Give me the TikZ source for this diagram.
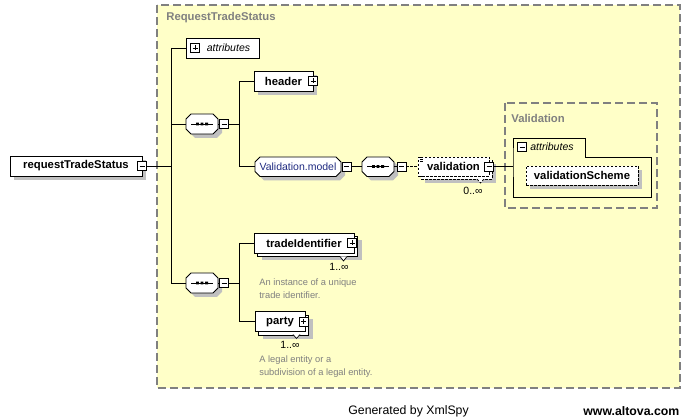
\documentclass[tikz,border=0pt]{standalone}
\usepackage{fontspec}
\setmainfont{Liberation Sans}
\usetikzlibrary{shadows}
\definecolor{bgyel}{HTML}{FFFFC8}
\definecolor{frame}{HTML}{808080}
\definecolor{shadc}{HTML}{C0C0C0}
\definecolor{grptext}{HTML}{1F2A80}
\newcommand\fontB{\fontsize{11.3}{13}\selectfont\bfseries}
\newcommand\fontR{\fontsize{10.5}{12}\selectfont}
\newcommand\fontS{\fontsize{9.3}{12.5}\selectfont}
\newcommand\fontF{\fontsize{12.3}{14}\selectfont}
% chamfered box: x1 y1 x2 y2 chamfer
\newcommand\octpath[5]{({#1+#5},#2) -- ({#3-#5},#2) -- (#3,{#2+#5}) -- (#3,{#4-#5}) -- ({#3-#5},#4) -- ({#1+#5},#4) -- (#1,{#4-#5}) -- (#1,{#2+#5}) -- cycle}
\newcommand\octa[5]{%
  \fill[shadc,shift={(4,4)}] \octpath{#1}{#2}{#3}{#4}{#5};
  \filldraw[fill=white] \octpath{#1}{#2}{#3}{#4}{#5};}
\newcommand\seqdots[1]{%
  \draw[line width=0.8pt] ([xshift=-11pt]#1.center) -- ([xshift=11pt]#1.center);
  \fill[shift={(#1.center)}] (-6,-1.4) rectangle ++(2.8,2.8) (-1.4,-1.4) rectangle ++(2.8,2.8) (3.2,-1.4) rectangle ++(2.8,2.8);}
\begin{document}
\begin{tikzpicture}[x=1pt,y=-1pt,line width=0.8pt,
  shad/.style={drop shadow={shadow xshift=4pt,shadow yshift=-4pt,fill=shadc,opacity=1}},
  elem/.style={draw,fill=white,minimum height=20,inner sep=0,font=\fontB},
  dsh/.style={dash pattern=on 2.5pt off 1.5pt},
  btn/.style={draw,fill=white,minimum size=9,inner sep=0,line width=0.7pt},
  btnminus/.style={btn,path picture={\draw[line width=0.7pt] ([xshift=2pt]path picture bounding box.west) -- ([xshift=-2pt]path picture bounding box.east);}},
  btnplus/.style={btn,path picture={\draw[line width=0.7pt] ([xshift=2pt]path picture bounding box.west) -- ([xshift=-2pt]path picture bounding box.east) ([yshift=-2pt]path picture bounding box.north) -- ([yshift=2pt]path picture bounding box.south);}},
  compo/.style={inner sep=0,minimum width=32,minimum height=20},
  grpbox/.style={draw=frame,fill=bgyel,dash pattern=on 8pt off 4pt,line width=1.2pt},
  grplabel/.style={text=frame,font=\fontB,anchor=west,inner sep=0},
  desc/.style={text=frame,font=\fontS,anchor=west,align=left,inner sep=0},
  card/.style={font=\fontR,inner sep=0},
  notch/.style={draw,fill=white,line width=0.7pt},
]
\fill[white] (0,0) rectangle (689,419);
\useasboundingbox (0,0) rectangle (689,419);

% outer group
\draw[grpbox] (157,5) rectangle (680,388);
\node[grplabel] (lblRTS) at (166,18) {RequestTradeStatus};

% root element
\node[elem,shad,minimum width=132] (rts) at (76,166) {requestTradeStatus};
\node[btnminus] (rtsb) at (142,166) {};

% attributes
\node[elem,font=\fontR\itshape,minimum width=73] (attr) at (222.5,48) {\hspace{12pt}attributes};
\node[btnplus] (attrb) at (195,48) {};

% trunk
\coordinate (tr1) at (171,48);
\coordinate (tr2) at (171,283);
\draw (tr1) -- (tr2);
\draw (tr1) -- (attr.west);
\draw (rtsb.east) -- (rtsb.east -| tr1);

% first sequence
\octa{186}{114}{218}{134}{5}
\node[compo] (s1) at (202,124) {};
\seqdots{s1}
\node[btnminus] (s1b) at (224,124) {};
\draw (s1.west -| tr1) -- (s1.west);
\draw (s1.east) -- (s1b.west);

\node[elem,shad,minimum width=59] (hdr) at (283.5,81) {header};
\node[btnplus] (hdrb) at (313,81) {};

\octa{255}{157}{341}{176.5}{5}
\node[compo,minimum width=86,font=\fontR,text=grptext] (vm) at (298,166.5) {Validation.model};
\node[btnminus] (vmb) at (346.5,166.5) {};
\coordinate (j1) at (239,124);
\draw (s1b.east) -- (j1);
\draw (hdr.west -| j1) -- (vm.west -| j1);
\draw (hdr.west -| j1) -- (hdr.west);
\draw (vm.west -| j1) -- (vm.west);

\octa{362}{157}{394}{176.5}{5}
\node[compo] (s3) at (378,166.5) {};
\seqdots{s3}
\node[btnminus] (s3b) at (401.5,166.5) {};
\draw (vmb.east) -- (s3.west);
\draw (s3.east) -- (s3b.west);

% validation element (0..unbounded)
\node[elem,dsh,shad,minimum width=71,minimum height=19] (valback) at (456.5,169.5) {};
\draw[notch,dsh] (477,179) -- (480.5,183) -- (484,179);
\node[elem,dsh,minimum width=71,minimum height=19] (val) at (453.5,166.5) {validation};
\draw[line width=0.6pt] (418.5,157.5) -- (423,157.5) (420,159.5) -- (423,159.5) (420,161.5) -- (423,161.5);
\node[btnminus] (valb) at (489,166.5) {};
\node[card] (valc) at (473,191) {0..∞};
\draw[dsh] (s3b.east) -- (val.west);

% Validation group
\draw[grpbox] (505,103) rectangle (657,208);
\node[grplabel] (lblV) at (511,118) {Validation};
\draw[line width=0.9pt] (513,157) -- (513,138) -- (585,138) -- (585,157) -- (651,157) -- (651,197) -- (513,197) -- cycle;
\coordinate (vattrin) at (513,166.5);
\node[btnminus] (vattrb) at (522,147) {};
\node[font=\fontR\itshape,anchor=west,inner sep=0] (vattr) at (530,147) {attributes};
\draw (valb.east) -- (vattrin);
\node[elem,dsh,shad,minimum width=112,minimum height=19] (vs) at (582,175.5) {validationScheme};

% second sequence
\octa{186}{273}{218}{293}{5}
\node[compo] (s2) at (202,283) {};
\seqdots{s2}
\node[btnminus] (s2b) at (224,283) {};
\draw (tr2) -- (s2.west);
\draw (s2.east) -- (s2b.west);
\coordinate (j2) at (239,283);
\draw (s2b.east) -- (j2);

\node[elem,shad,minimum width=100] (tiback) at (307.5,246.5) {};
\draw[notch] (340,256.5) -- (343.5,261) -- (347,256.5);
\node[elem,minimum width=100] (ti) at (304,243) {tradeIdentifier};
\node[btnplus] (tib) at (352,243) {};
\node[card] (tic) at (339,267) {1..∞};
\node[desc] (tid) at (259,288.5) {An instance of a unique\\trade identifier.};

\node[elem,shad,minimum width=50] (paback) at (283.5,325) {};
\draw[notch] (293,334.5) -- (296.5,338.5) -- (300,334.5);
\node[elem,minimum width=50] (pa) at (280,321.5) {party};
\node[btnplus] (pab) at (303.5,321.5) {};
\node[card] (pac) at (290,345) {1..∞};
\node[desc] (pad) at (259,366.5) {A legal entity or a\\subdivision of a legal entity.};

\draw (ti.west -| j2) -- (pa.west -| j2);
\draw (ti.west -| j2) -- (ti.west);
\draw (pa.west -| j2) -- (pa.west);

% footer
\node[font=\fontF,anchor=west,inner sep=0] (gen) at (348,411) {Generated by XmlSpy};
\node[font=\fontF\bfseries,anchor=west,inner sep=0] (alt) at (583,411) {www.altova.com};
\end{tikzpicture}
\end{document}
